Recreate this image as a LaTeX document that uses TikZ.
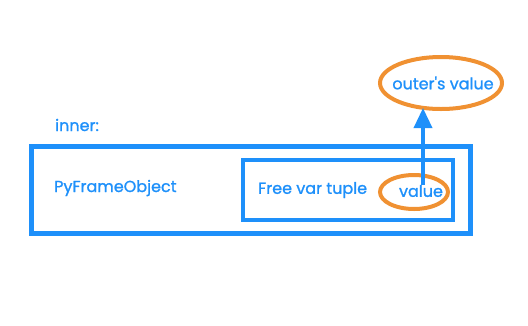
\documentclass[tikz,border=0pt]{standalone}
\usepackage{fontspec}
\setmainfont{Poppins}[FakeBold=1.2]
\usetikzlibrary{arrows.meta,shapes.geometric}
\definecolor{cblue}{RGB}{30,144,250}
\definecolor{corange}{RGB}{240,145,50}
\tikzset{
  frame/.style={draw=cblue,line width=5pt},
  lbl/.style={text=cblue,font=\fontsize{16}{19}\selectfont,inner sep=0pt},
  ring/.style={draw=corange,line width=4pt,ellipse,inner sep=0pt},
  link/.style={draw=cblue,line width=3.5pt,-{Triangle[width=18pt,length=20pt]}}
}
\begin{document}
\begin{tikzpicture}[x=1pt,y=-1pt]
\useasboundingbox (0,0) rectangle (528,325);
\node[frame,minimum width=439pt,minimum height=87pt,inner sep=0pt] (outer) at (250.5,189.5) {};
\node[frame,line width=4pt,minimum width=210pt,minimum height=60pt,inner sep=0pt] (tuple) at (348,190) {};
\node[lbl,anchor=west] (inner) at (55,125) {inner:};
\node[lbl,anchor=west] (pyf) at (54,188) {PyFrameObject};
\node[lbl,anchor=west] (fvt) at (258,190) {Free var tuple};
\node[ring,minimum width=68pt,minimum height=34pt] (vring) at (414,192) {};
\node[lbl] (val) at (421,191) {value};
\node[ring,minimum width=122pt,minimum height=52pt] (oring) at (441,83) {};
\node[lbl] (oval) at (443,83) {outer\textquotesingle s value};
\draw[link] ([xshift=2pt]val.north) -- ([xshift=-18pt,yshift=3pt]oring.south);
\end{tikzpicture}
\end{document}
